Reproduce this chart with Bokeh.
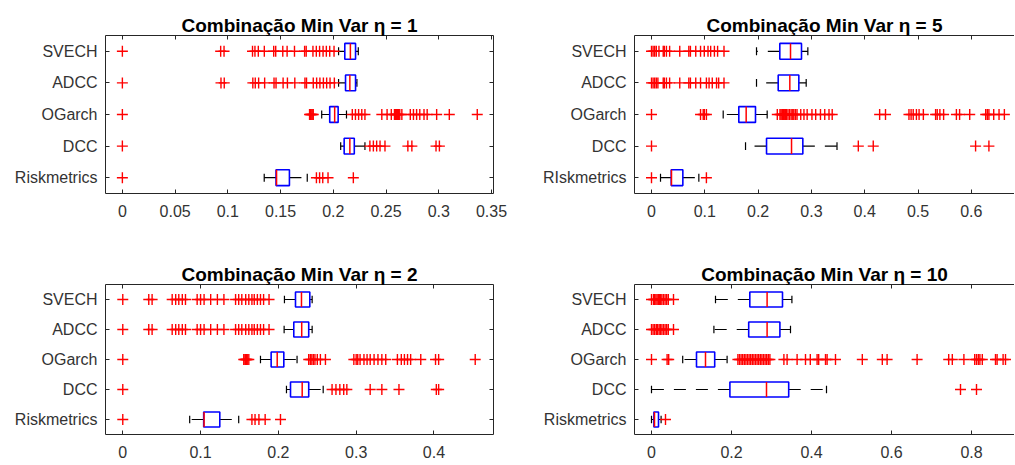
from bokeh.plotting import figure
from bokeh.layouts import column, row
from bokeh.models import FixedTicker, LinearAxis, CustomJSTickFormatter, Range1d
from bokeh.embed import file_html
from bokeh.resources import INLINE

# ---------------- data ----------------
labels_a = ["SVECH", "ADCC", "OGarch", "DCC", "Riskmetrics"]
labels_b = ["SVECH", "ADCC", "OGarch", "DCC", "RIskmetrics"]

# eta = 1
eta1_low = [0.205, 0.205, 0.189, 0.207, 0.1345]
eta1_q1 = [0.2109, 0.2116, 0.1966, 0.2103, 0.1457]
eta1_med = [0.2162, 0.2157, 0.2013, 0.2157, 0.1462]
eta1_q3 = [0.2211, 0.2211, 0.2046, 0.2199, 0.1584]
eta1_high = [0.2237, 0.2224, 0.2125, 0.230, 0.1753]
eta1_out = [
    [0, 0.0932, 0.0964, 0.1234, 0.1257, 0.1289, 0.1346, 0.1435, 0.1454, 0.1521, 0.1562, 0.1632,
     0.1728, 0.1743, 0.1807, 0.1839, 0.187, 0.1903, 0.1934, 0.1966, 0.2007],
    [0, 0.0935, 0.0966, 0.1237, 0.126, 0.1292, 0.1349, 0.1438, 0.1457, 0.1524, 0.1565, 0.1635,
     0.1731, 0.1746, 0.181, 0.1842, 0.1873, 0.1906, 0.1937, 0.1969, 0.201],
    [0, 0.1775, 0.1785, 0.179, 0.18, 0.181, 0.218, 0.221, 0.224, 0.227, 0.230, 0.246, 0.251, 0.255,
     0.258, 0.259, 0.260, 0.261, 0.262, 0.263, 0.265, 0.273, 0.276, 0.279, 0.282, 0.286, 0.289,
     0.298, 0.310, 0.3365],
    [0, 0.2347, 0.238, 0.2411, 0.2443, 0.249, 0.2707, 0.2745, 0.2974, 0.3006],
    [0, 0.184, 0.187, 0.190, 0.195, 0.219],
]
eta1_ticks = [0, 0.05, 0.1, 0.15, 0.2, 0.25, 0.3, 0.35]

# eta = 5
eta5_low = [0.197, 0.197, 0.1345, 0.1764, 0.0169]
eta5_q1 = [0.2407, 0.2377, 0.1638, 0.2158, 0.037]
eta5_med = [0.2608, 0.2595, 0.1776, 0.2627, 0.0375]
eta5_q3 = [0.2814, 0.2764, 0.1951, 0.2839, 0.0588]
eta5_high = [0.2933, 0.2902, 0.217, 0.348, 0.0888]
eta5_out = [
    [0, 0.003, 0.006, 0.009, 0.014, 0.022, 0.024, 0.028, 0.034, 0.053, 0.070, 0.073, 0.083, 0.092,
     0.099, 0.106, 0.111, 0.118, 0.124, 0.136],
    [0, 0.003, 0.006, 0.009, 0.012, 0.022, 0.024, 0.028, 0.034, 0.053, 0.070, 0.073, 0.083, 0.092,
     0.103, 0.108, 0.114, 0.122, 0.126, 0.136],
    [0, 0.092, 0.097, 0.099, 0.103, 0.236, 0.241, 0.243, 0.245, 0.246, 0.248, 0.250, 0.251, 0.253,
     0.256, 0.259, 0.262, 0.265, 0.267, 0.270, 0.273, 0.280, 0.286, 0.292, 0.301, 0.308, 0.317,
     0.325, 0.333, 0.339, 0.428, 0.439, 0.483, 0.487, 0.491, 0.497, 0.502, 0.510, 0.533, 0.536,
     0.541, 0.548, 0.572, 0.578, 0.597, 0.627, 0.630, 0.633, 0.642, 0.652, 0.662],
    [0, 0.388, 0.416, 0.608, 0.633],
    [0, 0.103],
]
eta5_ticks = [0, 0.1, 0.2, 0.3, 0.4, 0.5, 0.6]

# eta = 2
eta2_low = [0.2078, 0.2074, 0.177, 0.2104, 0.086]
eta2_q1 = [0.222, 0.2198, 0.1907, 0.2156, 0.104]
eta2_med = [0.2297, 0.230, 0.1985, 0.2306, 0.1045]
eta2_q3 = [0.2404, 0.239, 0.207, 0.239, 0.1247]
eta2_high = [0.2434, 0.2434, 0.224, 0.2576, 0.149]
eta2_out = [
    [0, 0.0334, 0.0377, 0.0635, 0.068, 0.072, 0.0765, 0.0806, 0.0956, 0.1, 0.1045, 0.113, 0.1216,
     0.130, 0.145, 0.149, 0.153, 0.158, 0.162, 0.166, 0.169, 0.173, 0.177, 0.181, 0.188],
    [0, 0.0334, 0.0377, 0.0635, 0.068, 0.072, 0.0765, 0.0806, 0.0956, 0.1, 0.1045, 0.113, 0.1216,
     0.130, 0.145, 0.149, 0.153, 0.158, 0.162, 0.166, 0.169, 0.173, 0.177, 0.181, 0.188],
    [0, 0.1555, 0.157, 0.158, 0.159, 0.160, 0.162, 0.239, 0.241, 0.243, 0.245, 0.247, 0.250, 0.254,
     0.2605, 0.297, 0.300, 0.302, 0.305, 0.310, 0.314, 0.318, 0.323, 0.328, 0.333, 0.338, 0.353,
     0.358, 0.362, 0.366, 0.370, 0.383, 0.402, 0.406, 0.453],
    [0, 0.269, 0.274, 0.279, 0.284, 0.288, 0.318, 0.333, 0.355, 0.403, 0.406],
    [0, 0.166, 0.170, 0.175, 0.183, 0.2027],
]
eta2_ticks = [0, 0.1, 0.2, 0.3, 0.4]

# eta = 10
eta10_low = [0.16, 0.156, 0.078, 0.0, 0.0]
eta10_q1 = [0.2458, 0.243, 0.1125, 0.196, 0.006]
eta10_med = [0.289, 0.289, 0.135, 0.2875, 0.0075]
eta10_q3 = [0.3275, 0.321, 0.158, 0.343, 0.0175]
eta10_high = [0.351, 0.3475, 0.189, 0.4375, 0.024]
eta10_out = [
    [0, 0.005, 0.008, 0.011, 0.014, 0.017, 0.02, 0.023, 0.026, 0.03, 0.034, 0.038, 0.042, 0.055],
    [0, 0.004, 0.008, 0.012, 0.015, 0.019, 0.022, 0.026, 0.03, 0.034, 0.038, 0.042, 0.055],
    [0, 0.039, 0.043, 0.216, 0.22, 0.224, 0.228, 0.232, 0.236, 0.24, 0.244, 0.248, 0.252, 0.256,
     0.26, 0.264, 0.268, 0.272, 0.276, 0.28, 0.284, 0.288, 0.292, 0.296, 0.331, 0.339, 0.364,
     0.385, 0.397, 0.414, 0.418, 0.435, 0.439, 0.46, 0.527, 0.577, 0.589, 0.664, 0.743, 0.752,
     0.781, 0.808, 0.8125, 0.817, 0.821, 0.827, 0.86, 0.864, 0.879, 0.885],
    [0.7725, 0.8125],
    [0.035],
]
eta10_ticks = [0, 0.2, 0.4, 0.6, 0.8]

FONT = "Liberation Sans"
AXC = "#262626"


def style_axis(ax, show_labels):
    ax.major_tick_in = 4
    ax.major_tick_out = 0
    ax.minor_tick_line_color = None
    ax.axis_line_color = AXC
    ax.major_tick_line_color = AXC
    ax.axis_line_width = 1
    ax.major_label_text_font = FONT
    if show_labels:
        ax.major_label_text_color = "#333333"
        ax.major_label_text_font_size = "16px"
    else:
        ax.major_label_text_color = None
        ax.major_label_text_font_size = "1px"
        ax.major_label_standoff = 0


def panel(title, labels, low, q1, med, q3, high, outliers, ticks, xr,
          width, height, mb, right_axis):
    p = figure(width=width, height=height, x_range=Range1d(*xr), y_range=Range1d(0.5, 5.5),
               output_backend="svg", toolbar_location=None, tools="",
               x_axis_location=None, y_axis_location=None,
               min_border_left=mb[0], min_border_right=mb[1],
               min_border_top=mb[2], min_border_bottom=mb[3])
    p.grid.visible = False
    p.outline_line_color = None
    p.background_fill_color = "white"
    p.border_fill_color = "white"

    n = len(labels)
    ys = [n - i for i in range(n)]

    # whiskers (dashed, starting at the box edge)
    p.segment(x0=q1, y0=ys, x1=low, y1=ys, line_color="black", line_width=1.2, line_dash="12 10")
    p.segment(x0=q3, y0=ys, x1=high, y1=ys, line_color="black", line_width=1.2, line_dash="12 10")
    # caps
    p.segment(x0=low, x1=low, y0=[y - 0.125 for y in ys], y1=[y + 0.125 for y in ys],
              line_color="black", line_width=1.2)
    p.segment(x0=high, x1=high, y0=[y - 0.125 for y in ys], y1=[y + 0.125 for y in ys],
              line_color="black", line_width=1.2)
    # boxes
    p.hbar(y=ys, left=q1, right=q3, height=0.5, fill_color=None, line_color="blue", line_width=1.6)
    # medians
    p.segment(x0=med, x1=med, y0=[y - 0.25 for y in ys], y1=[y + 0.25 for y in ys],
              line_color="red", line_width=1.5)
    # outliers
    ox, oy = [], []
    for y, vals in zip(ys, outliers):
        ox.extend(vals)
        oy.extend([y] * len(vals))
    p.scatter(ox, oy, marker="cross", size=11, line_color="red", line_width=1.4)

    fmt = CustomJSTickFormatter(code="return String(Number(tick.toFixed(3)));")
    below = LinearAxis(ticker=FixedTicker(ticks=ticks), formatter=fmt)
    style_axis(below, True)
    below.major_label_standoff = 11
    p.add_layout(below, "below")

    above = LinearAxis(ticker=FixedTicker(ticks=ticks))
    style_axis(above, False)
    p.add_layout(above, "above")

    left = LinearAxis(ticker=FixedTicker(ticks=ys),
                      major_label_overrides={y: lab for y, lab in zip(ys, labels)})
    style_axis(left, True)
    left.major_label_standoff = 8
    p.add_layout(left, "left")

    if right_axis:
        right = LinearAxis(ticker=FixedTicker(ticks=ys))
        style_axis(right, False)
        p.add_layout(right, "right")

    p.title.text = title
    p.title.align = "center"
    p.title.text_font = FONT
    p.title.text_font_size = "19px"
    p.title.text_font_style = "bold"
    p.title.text_color = "black"
    p.title.standoff = 0
    return p


p1 = panel("Combinação Min Var η = 1", labels_a, eta1_low, eta1_q1, eta1_med, eta1_q3, eta1_high,
           eta1_out, eta1_ticks, (-0.016, 0.3519), 528, 248, (105, 35, 35, 55), True)
p2 = panel("Combinação Min Var η = 5", labels_b, eta5_low, eta5_q1, eta5_med, eta5_q3, eta5_high,
           eta5_out, eta5_ticks, (-0.0319, 0.681), 486, 248, (106, 0, 34, 54), False)
p3 = panel("Combinação Min Var η = 2", labels_a, eta2_low, eta2_q1, eta2_med, eta2_q3, eta2_high,
           eta2_out, eta2_ticks, (-0.0222, 0.4765), 528, 215, (105, 35, 34, 29), True)
p4 = panel("Combinação Min Var η = 10", labels_a, eta10_low, eta10_q1, eta10_med, eta10_q3, eta10_high,
           eta10_out, eta10_ticks, (-0.0425, 0.9075), 486, 215, (106, 0, 36, 27), False)

layout = column(row(p1, p2), row(p3, p4))

with open("out.html", "w") as f:
    f.write(file_html(layout, INLINE))
